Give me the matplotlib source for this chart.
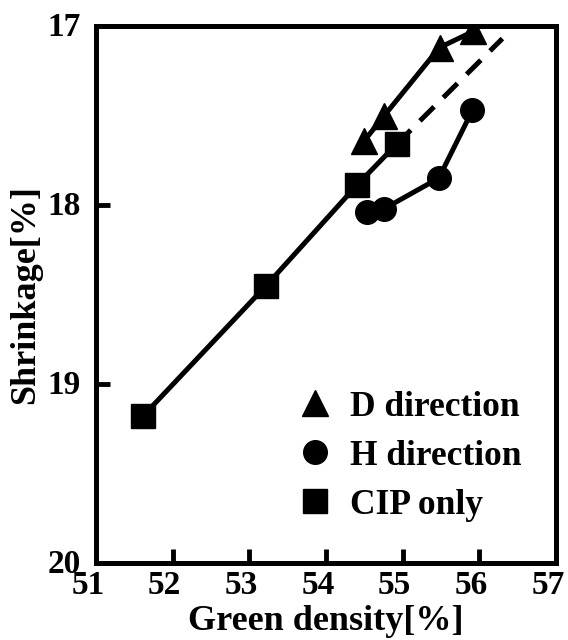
"""
Shrinkage vs green density for D / H direction and CIP only.
"""

import matplotlib.pyplot as plt
import matplotlib.transforms as mtransforms

plt.rcParams['font.family'] = ['Liberation Serif', 'DejaVu Serif']
plt.rcParams['font.weight'] = 'bold'

# CIP only (squares); the last point is joined to the dashed extension
cip_x = [51.61, 53.22, 54.40, 54.92]
cip_y = [19.18, 18.45, 17.89, 17.66]
dash_x = [54.92, 56.30]
dash_y = [17.66, 17.07]

# D direction (triangles)
d_x = [54.50, 54.76, 55.48, 55.92]
d_y = [17.64, 17.50, 17.12, 17.03]

# H direction (circles)
h_x = [54.53, 54.76, 55.47, 55.91]
h_y = [18.04, 18.02, 17.85, 17.47]

x_ticks = [51, 52, 53, 54, 55, 56, 57]
y_ticks = [17, 18, 19, 20]

fig = plt.figure(figsize=(5.68, 6.4), dpi=100)
ax = fig.add_axes([0.169, 0.1203, 0.81, 0.839])

lw = 3.6
ax.plot(cip_x, cip_y, 'k-', linewidth=lw)
ax.plot(dash_x, dash_y, 'k--', linewidth=lw, dashes=(4, 2.6))
ax.plot(d_x, d_y, 'k-', linewidth=lw)
ax.plot(h_x, h_y, 'k-', linewidth=lw)

ax.plot(cip_x, cip_y, 'ks', markersize=17, linestyle='none', label='CIP only')
ax.plot(d_x, d_y, 'k^', markersize=19, linestyle='none', label='D direction')
ax.plot(h_x, h_y, 'ko', markersize=17, linestyle='none', label='H direction')

ax.set_xlim(51, 57)
ax.set_ylim(20, 17)
ax.set_xticks(x_ticks)
ax.set_yticks(y_ticks)
ax.tick_params(direction='in', length=10, width=3.5, labelsize=24, pad=5)
ax.tick_params(axis='y', pad=11)
for sp in ax.spines.values():
    sp.set_linewidth(3.6)

# x tick labels sit a little left of their ticks in the original
shift = mtransforms.ScaledTranslation(-8 / 100, 0, fig.dpi_scale_trans)
for lab in ax.get_xticklabels():
    lab.set_transform(lab.get_transform() + shift)
shift_y = mtransforms.ScaledTranslation(0, 2 / 100, fig.dpi_scale_trans)
for lab in ax.get_yticklabels():
    lab.set_transform(lab.get_transform() + shift_y)

ax.set_xlabel('Green density[%]', fontsize=26, fontweight='bold', labelpad=3)
ax.set_ylabel('Shrinkage[%]', fontsize=26, fontweight='bold', labelpad=4)

handles, labels = ax.get_legend_handles_labels()
order = [1, 2, 0]
ax.legend([handles[i] for i in order], [labels[i] for i in order],
          loc='upper left', bbox_to_anchor=(0.4065, 0.347), frameon=False,
          fontsize=25.5, handletextpad=0.5, labelspacing=0.45,
          handlelength=1.0, borderaxespad=0)

plt.savefig('out.png', dpi=100)
